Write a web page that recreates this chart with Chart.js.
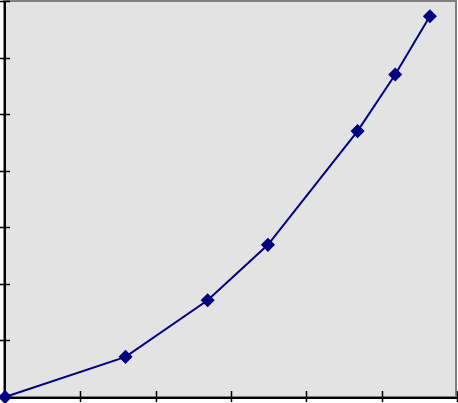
<!DOCTYPE html>
<html>
<head>
<meta charset="utf-8">
<script src="https://cdn.jsdelivr.net/npm/chart.js@4/dist/chart.umd.min.js"></script>
<style>
    html, body { margin: 0; padding: 0; background: #fff; }
    #wrap { width: 458px; height: 403px; }
</style>
</head>
<body>
<div id="wrap"><canvas id="chart"></canvas></div>
<script>
const xValues = [0, 1.60, 2.69, 3.49, 4.68, 5.18, 5.64];
const yValues = [0, 0.71, 1.71, 2.69, 4.70, 5.70, 6.73];
const xTicks = [0, 1, 2, 3, 4, 5, 6];
const yTicks = [0, 1, 2, 3, 4, 5, 6, 7];

// plot background, grey frame, black axes with cross ticks
const plotFrame = {
    id: 'plotFrame',
    beforeDatasetsDraw(chart) {
        const { ctx, chartArea: a, scales } = chart;
        ctx.save();
        ctx.fillStyle = '#e3e3e3';
        ctx.fillRect(a.left, a.top, a.right - a.left, a.bottom - a.top);

        ctx.strokeStyle = '#808080';
        ctx.lineWidth = 2;
        ctx.strokeRect(a.left - 1, a.top, a.right - a.left, a.bottom - a.top);

        ctx.strokeStyle = '#000';
        ctx.lineWidth = 2;
        ctx.beginPath();
        ctx.moveTo(a.left, a.top);
        ctx.lineTo(a.left, a.bottom + 1);
        ctx.lineTo(a.right, a.bottom + 1);
        ctx.stroke();

        ctx.lineWidth = 1.5;
        ctx.beginPath();
        yTicks.forEach((v) => {
            const y = Math.round(scales.y.getPixelForValue(v)) + 0.5;
            ctx.moveTo(a.left - 5, y);
            ctx.lineTo(a.left + 5, y);
        });
        xTicks.forEach((v) => {
            const x = Math.round(scales.x.getPixelForValue(v)) + 0.5;
            ctx.moveTo(x, a.bottom - 6);
            ctx.lineTo(x, a.bottom + 5);
        });
        ctx.stroke();
        ctx.restore();
    },
};

new Chart(document.getElementById('chart'), {
    type: 'line',
    data: {
        datasets: [{
            data: xValues.map((x, i) => ({ x, y: yValues[i] })),
            borderColor: '#000080',
            backgroundColor: '#000080',
            borderWidth: 2,
            tension: 0,
            pointStyle: 'rectRot',
            pointRadius: 6,
            pointBorderWidth: 1.5,
            pointBorderColor: '#000080',
            clip: false,
        }],
    },
    options: {
        responsive: true,
        maintainAspectRatio: false,
        animation: false,
        layout: {
            autoPadding: false,
            padding: { left: 5, top: 1, right: 1, bottom: 6 },
        },
        scales: {
            x: { type: 'linear', min: 0, max: 6, display: false },
            y: { min: 0, max: 7, display: false },
        },
        plugins: {
            legend: { display: false },
            tooltip: { enabled: false },
        },
    },
    plugins: [plotFrame],
});
</script>
</body>
</html>
